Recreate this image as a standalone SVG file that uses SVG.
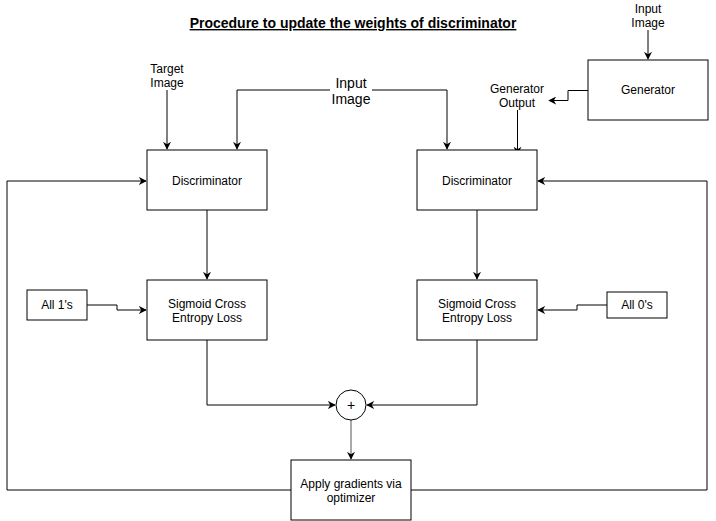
<svg xmlns="http://www.w3.org/2000/svg" width="716" height="521" viewBox="0 0 716 521">
<style>
.box{fill:#fff;stroke:#000;stroke-width:1}
.t{font-family:"Liberation Sans",Arial,sans-serif;font-size:12px;fill:#000;text-anchor:middle}
.c{fill:none;stroke:#000;stroke-width:1}
</style>
<defs>
<marker id="a" viewBox="0 0 10 10" refX="9" refY="5" markerWidth="8" markerHeight="8" markerUnits="userSpaceOnUse" orient="auto">
<path d="M0,0 L10,5 L0,10 L3,5 Z" fill="#000"/>
</marker>
</defs>
<rect width="716" height="521" fill="#fff"/>
<text x="353" y="28" style="font-family:'Liberation Sans',Arial,sans-serif;font-size:14px;font-weight:bold;text-anchor:middle;text-decoration:underline">Procedure to update the weights of discriminator</text>
<g id="connectors">
<path class="c" d="M648,30 V59" marker-end="url(#a)"/>
<path class="c" d="M588,90.5 H568 V100.5 H549" marker-end="url(#a)"/>
<path class="c" d="M517.5,110 V154" marker-end="url(#a)"/>
<path class="c" d="M167,90 V149" marker-end="url(#a)"/>
<path class="c" d="M330,90 H237 V149" marker-end="url(#a)"/>
<path class="c" d="M372,90 H447 V149" marker-end="url(#a)"/>
<path class="c" d="M207,210 V279" marker-end="url(#a)"/>
<path class="c" d="M477,210 V279" marker-end="url(#a)"/>
<path class="c" d="M87,305 H117 V310 H146" marker-end="url(#a)"/>
<path class="c" d="M607,305 H577 V310 H538" marker-end="url(#a)"/>
<path class="c" d="M207,340 V405 H335" marker-end="url(#a)"/>
<path class="c" d="M477,340 V405 H367" marker-end="url(#a)"/>
<path class="c" d="M351,420 V459" marker-end="url(#a)" style="stroke:#555"/>
<path class="c" d="M291,490 H7 V181 H146" marker-end="url(#a)"/>
<path class="c" d="M411,490 H707 V181 H538" marker-end="url(#a)"/>
</g>
<g id="input-image-top"><text class="t" x="648" y="13">Input</text><text class="t" x="648" y="27">Image</text></g>
<g id="generator"><rect class="box" x="588" y="60" width="120" height="60"/><text class="t" x="648" y="94">Generator</text></g>
<g id="generator-output"><text class="t" x="517" y="93">Generator</text><text class="t" x="517" y="107">Output</text></g>
<g id="target-image"><text class="t" x="167" y="73">Target</text><text class="t" x="167" y="87">Image</text></g>
<g id="input-image"><text class="t" x="351" y="88" style="font-size:14px">Input</text><text class="t" x="351" y="104" style="font-size:14px">Image</text></g>
<g id="disc-left"><rect class="box" x="147" y="150" width="120" height="60"/><text class="t" x="207" y="185">Discriminator</text></g>
<g id="disc-right"><rect class="box" x="417" y="150" width="120" height="60"/><text class="t" x="477" y="185">Discriminator</text></g>
<g id="loss-left"><rect class="box" x="147" y="280" width="120" height="60"/><text class="t" x="207" y="308">Sigmoid Cross</text><text class="t" x="207" y="322">Entropy Loss</text></g>
<g id="loss-right"><rect class="box" x="417" y="280" width="120" height="60"/><text class="t" x="477" y="308">Sigmoid Cross</text><text class="t" x="477" y="322">Entropy Loss</text></g>
<g id="all-ones"><rect class="box" x="27" y="290" width="60" height="30"/><text class="t" x="57" y="309">All 1's</text></g>
<g id="all-zeros"><rect class="box" x="607" y="292" width="60" height="26"/><text class="t" x="637" y="309">All 0's</text></g>
<g id="plus"><circle class="box" cx="351" cy="405" r="15"/><text class="t" x="351" y="410" style="font-size:14px">+</text></g>
<g id="apply"><rect class="box" x="291" y="460" width="120" height="60"/><text class="t" x="351" y="488">Apply gradients via</text><text class="t" x="351" y="502">optimizer</text></g>
</svg>
